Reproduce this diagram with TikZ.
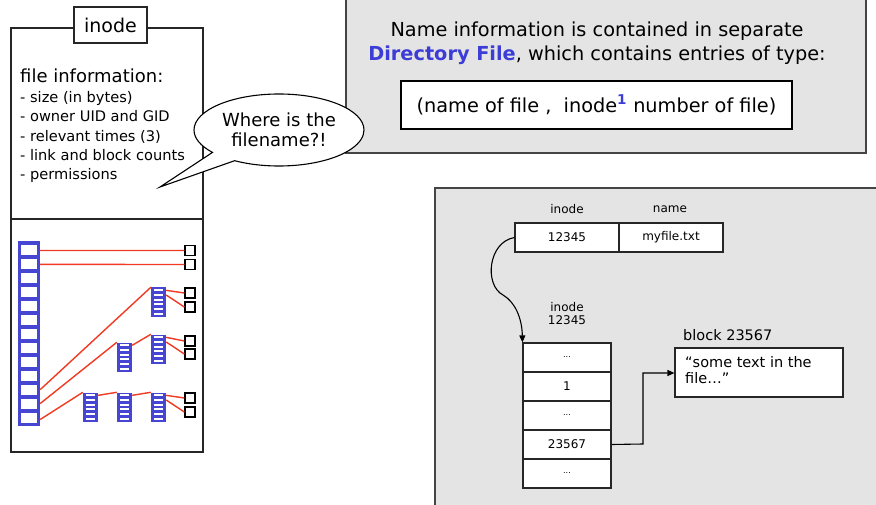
\documentclass[tikz,border=0pt]{standalone}
\usepackage{fontspec}
\setmainfont{DejaVu Sans}
\usetikzlibrary{shapes.callouts,arrows.meta}
\definecolor{blk}{HTML}{4646D2}
\definecolor{redl}{HTML}{F03A22}
\definecolor{greyf}{HTML}{E4E4E4}
\definecolor{greyb}{HTML}{444444}
\definecolor{dirblue}{HTML}{3C3CD6}
\newcommand{\fs}[1]{\fontsize{#1}{#1}\selectfont}
\newcommand{\smallblk}[3]{%
  \node[smblock] (#1) at ({#2+7.5},{#3+14}) {};
  \foreach \r in {1,...,6}{%
    \node[smslot] (#1-\r) at ({#2+7.5},{#3+4.667*(\r-0.5)}) {};}%
}
\begin{document}
\begin{tikzpicture}[x=1pt,y=-1pt,
  greybox/.style={draw=greyb,line width=1.5pt,fill=greyf},
  bigcol/.style={fill=blk,minimum width=22.5pt,minimum height=185pt,inner sep=0pt},
  bigcell/.style={fill=white,minimum width=15.8pt,minimum height=10pt,inner sep=0pt},
  smblock/.style={fill=blk,minimum width=15pt,minimum height=29pt,inner sep=0pt},
  smslot/.style={fill=white,minimum width=9.6pt,minimum height=2.2pt,inner sep=0pt},
  sq/.style={draw=black,line width=1.3pt,minimum size=10pt,inner sep=0pt,fill=white},
  redc/.style={draw=redl,line width=1.4pt},
  tcell/.style={draw=black!85,line width=1.1pt,inner sep=0pt,fill=white,font=\fs{12}},
  lbl/.style={inner sep=0pt,font=\fs{12}},
]
\useasboundingbox (0,0) rectangle (876,505);
% grey panels
\draw[greybox] (346,-5) rectangle (866,153);
\draw[greybox] (435,188) rectangle (885,515);
% top-right texts
\node[inner sep=0pt,font=\fs{19.3}] (t1) at (597,31) {Name information is contained in separate};
\node[inner sep=0pt,font=\fs{19.3}] (t2) at (597,55) {\textcolor{dirblue}{\textbf{Directory File}}, which contains entries of type:};
\node[draw=black,line width=1.1pt,fill=white,minimum width=391pt,minimum height=48pt,inner sep=0pt,font=\fs{19.3}] (entry) at (596.5,105) {(name of file ,\ \ inode\textsuperscript{\textcolor{dirblue}{\textbf{1}}} number of file)};
% inode box
\draw[draw=black!85,line width=1.3pt,fill=white] (11,28) rectangle (203,452);
\draw[draw=black!85,line width=1.3pt] (11,219) -- (203,219);
\node[draw=black!85,line width=1.3pt,fill=white,minimum width=73pt,minimum height=36pt,inner sep=0pt,font=\fs{19}] (ititle) at (110.5,25) {inode};
\node[anchor=west,inner sep=0pt,font=\fs{18}] (fi) at (20,76) {file information:};
\node[anchor=north west,inner sep=0pt,font=\fs{14.6},align=left] (list) at (20,91.5) {- size (in bytes)\\[4.6pt]- owner UID and GID\\[4.6pt]- relevant times (3)\\[4.6pt]- link and block counts\\[4.6pt]- permissions};
% speech bubble
\coordinate (tip) at (160,187);
\node[ellipse callout,draw=black,line width=1.1pt,fill=white,minimum width=170pt,minimum height=72pt,inner sep=0pt,
  callout absolute pointer={(tip)},callout pointer arc=20,align=center,font=\fs{18}] (bubble) at (279,130) {Where is the\\[2pt]filename?!};
% block pointers
\node[bigcol] (col) at (28.75,{243.5+13.92*6.5}) {};
\foreach \i in {1,...,13}{\node[bigcell] (c\i) at (28.75,{243.5+13.92*(\i-0.5)}) {};}
\smallblk{A}{151}{288}
\smallblk{B}{151}{335}
\smallblk{C}{151}{393}
\smallblk{M}{117}{343}
\smallblk{N}{117}{393}
\smallblk{L}{83}{393}
\foreach \n/\y in {s1/250.5,s2/264.5,s3/293,s4/307,s5/341,s6/354,s7/398,s8/412}{\node[sq] (\n) at (190,\y) {};}
\draw[redc] (col.east|-c1) -- (s1.west);
\draw[redc] (col.east|-c2) -- (s2.west);
\draw[redc] (col.east|-c11) -- (A.north west);
\draw[redc] (col.east|-c12) -- (M.north west);
\draw[redc] ([yshift=-2pt]col.east|-c13) -- (L.north west);
\draw[redc] (M.east|-M-1) -- (B.north west);
\draw[redc] (L.east|-L-1) -- (N.north west);
\draw[redc] (N.east|-N-1) -- (C.north west);
\draw[redc] (A.east|-A-1) -- (s3.west);
\draw[redc] (A.east|-A-2) -- (s4.west);
\draw[redc] (B.east|-B-1) -- (s5.west);
\draw[redc] (B.east|-B-2) -- (s6.west);
\draw[redc] (C.east|-C-1) -- (s7.west);
\draw[redc] (C.east|-C-2) -- (s8.west);
% directory table
\node[lbl] (hI) at (567,209) {inode};
\node[lbl] (hN) at (670,209) {name};
\node[tcell,minimum width=104pt,minimum height=29pt] (dI) at (567,237.5) {12345};
\node[tcell,minimum width=104pt,minimum height=29pt] (dN) at (671,237.5) {myfile.txt};
\node[lbl,align=center] (il) at (567,314) {inode\\[1pt]12345};
% inode table
\foreach \i/\t in {1/{\fs{8}...},2/1,3/{\fs{8}...},4/23567,5/{\fs{8}...}}{%
  \node[tcell,minimum width=88pt,minimum height=29pt] (r\i) at (567,{357.5+29*(\i-1)}) {\t};}
\node[inner sep=0pt,anchor=west,font=\fs{14.5}] (bl) at (683,335) {block 23567};
\node[draw=black!85,line width=1.1pt,fill=white,minimum width=168pt,minimum height=49pt,inner sep=0pt] (blk) at (759,372.5) {};
\node[anchor=north west,inner sep=0pt,align=left,font=\fs{14.5}] (bt) at (685,356) {“some text in the\\[2pt]file…”};
% arrows
\draw[line width=1.1pt,-{Triangle[length=7pt,width=6pt]}] (dI.west) .. controls (488,242) and (484,285) .. (503,295) .. controls (515,302) and (522,318) .. (r1.north west);
\draw[line width=1.1pt,-{Triangle[length=7pt,width=6pt]}] (r4.east) -- (643,444) -- (643,373) -- (blk.west|-0,373);
\end{tikzpicture}
\end{document}
